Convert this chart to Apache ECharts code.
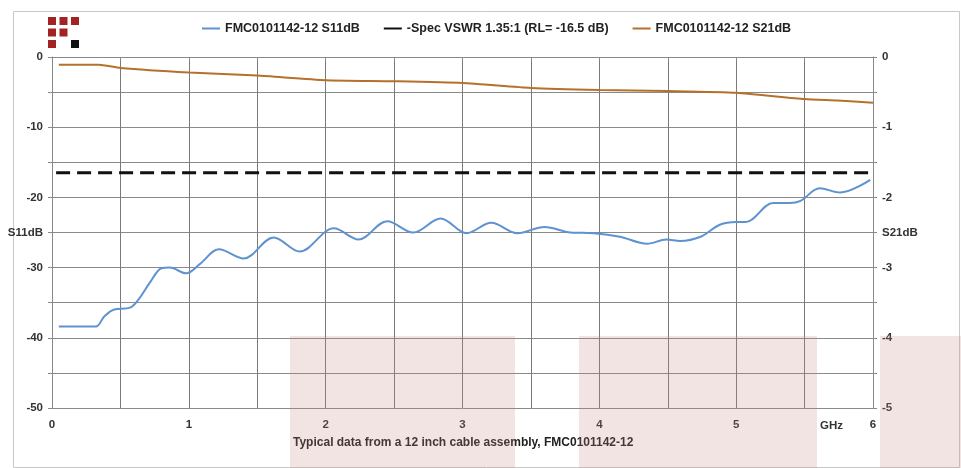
<!DOCTYPE html>
<html>
<head>
<meta charset="utf-8">
<script src="https://cdn.jsdelivr.net/npm/echarts@6/dist/echarts.min.js"></script>
<style>html,body{margin:0;padding:0;background:#fff}#c{width:961px;height:468px}</style>
</head>
<body>
<div id="c"></div>
<script>
var s11Freq = [0.05,0.32,0.38,0.45,0.57,0.63,0.72,0.80,0.86,0.98,1.08,1.22,1.40,1.62,1.81,2.06,2.24,2.45,2.64,2.84,3.03,3.21,3.40,3.60,3.79,3.96,4.15,4.35,4.49,4.59,4.74,4.88,5.00,5.07,5.27,5.39,5.47,5.61,5.76,5.98];
var s11dB   = [-38.4,-38.4,-37.0,-36.0,-35.7,-34.6,-32.0,-30.1,-30.0,-30.8,-29.5,-27.4,-28.7,-25.7,-27.7,-24.4,-26.0,-23.4,-25.0,-23.0,-25.1,-23.6,-25.1,-24.2,-25.0,-25.1,-25.6,-26.6,-26.0,-26.2,-25.6,-23.9,-23.5,-23.5,-20.8,-20.8,-20.5,-18.7,-19.3,-17.5];
var s21Freq = [0.05,0.34,0.5,1.0,1.5,2.0,2.5,3.0,3.5,4.0,4.5,5.0,5.5,5.74,6.0];
var s21dB   = [-0.11,-0.11,-0.155,-0.22,-0.265,-0.33,-0.345,-0.37,-0.44,-0.47,-0.485,-0.51,-0.60,-0.62,-0.65];
var specFreq = [0.03,6.0];
var specdB   = [-16.5,-16.5];
var seriesNames = ['FMC0101142-12 S11dB','-Spec VSWR 1.35:1 (RL= -16.5 dB)','FMC0101142-12 S21dB'];
var xTickLabels = ['0','1','2','3','4','5','6'];

function zip(a,b){return a.map(function(v,i){return [v,b[i]];});}
var FONT = '"Liberation Sans", Arial, sans-serif';
var chart = echarts.init(document.getElementById('c'));
var logo = [];
var cells = [[0,0,'#a32323'],[1,0,'#a32323'],[2,0,'#a32323'],[0,1,'#a32323'],[1,1,'#a32323'],[0,2,'#a32323'],[2,2,'#111']];
cells.forEach(function(c){logo.push({type:'rect',left:48+c[0]*11.5,top:17+c[1]*11.5,shape:{width:8,height:8},style:{fill:c[2]},silent:true});});
chart.setOption({
  animation:false,
  grid:{left:52,right:88,top:57,bottom:60},
  legend:{left:197,top:17,itemWidth:18,itemHeight:2,itemGap:24,icon:'rect',
    textStyle:{fontFamily:FONT,fontWeight:'bold',fontSize:12.5,color:'#222'},
    data:seriesNames},
  xAxis:{type:'value',min:0,max:6,interval:0.5,
    axisLine:{lineStyle:{color:'#888'}},
    axisTick:{show:true,length:4,lineStyle:{color:'#888'}},
    splitLine:{show:true,lineStyle:{color:'#7a7a7a',width:1}},
    axisLabel:{margin:11,fontFamily:FONT,fontWeight:'bold',fontSize:11.5,color:'#333',
      formatter:function(v){var i=Math.round(v);return Math.abs(v-i)<1e-9?xTickLabels[i]:'';}}},
  yAxis:[
    {type:'value',min:-50,max:0,interval:5,position:'left',
     axisLine:{show:true,lineStyle:{color:'#888'}},
     axisTick:{show:true,length:4,lineStyle:{color:'#888'}},
     splitLine:{show:true,lineStyle:{color:'#8a8a8a',width:1}},
     axisLabel:{margin:9,fontFamily:FONT,fontWeight:'bold',fontSize:11.5,color:'#333',
       formatter:function(v){if(v%10===0)return String(v);if(v===-25)return 'S11dB';return '';}}},
    {type:'value',min:-5,max:0,interval:0.5,position:'right',
     axisLine:{show:true,lineStyle:{color:'#888'}},
     axisTick:{show:true,length:4,lineStyle:{color:'#888'}},
     splitLine:{show:false},
     axisLabel:{margin:9,fontFamily:FONT,fontWeight:'bold',fontSize:11.5,color:'#333',
       formatter:function(v){var i=Math.round(v);if(Math.abs(v-i)<1e-9)return String(i);if(Math.abs(v+2.5)<1e-9)return 'S21dB';return '';}}}
  ],
  series:[
    {name:seriesNames[0],type:'line',yAxisIndex:0,data:zip(s11Freq,s11dB),smooth:0.35,symbol:'none',
     lineStyle:{color:'#5e92d0',width:2},itemStyle:{color:'#5e92d0'},z:3},
    {name:seriesNames[1],type:'line',yAxisIndex:0,data:zip(specFreq,specdB),symbol:'none',
     lineStyle:{color:'#111',width:3,type:[14,7]},itemStyle:{color:'#111'},z:4},
    {name:seriesNames[2],type:'line',yAxisIndex:1,data:zip(s21Freq,s21dB),smooth:0.2,symbol:'none',
     lineStyle:{color:'#b5702c',width:2},itemStyle:{color:'#b5702c'},z:3}
  ],
  graphic:[
    {type:'rect',left:11,top:9,shape:{width:946,height:456},style:{fill:'none',stroke:'#c8c8c8',lineWidth:1},silent:true,z:-1},
    {type:'text',left:820,top:420,style:{text:'GHz',font:'bold 11.5px '+FONT,fill:'#333'},silent:true},
    {type:'text',left:293,top:437,style:{text:'Typical data from a 12 inch cable assembly, FMC0101142-12',font:'bold 12px '+FONT,fill:'#222'},silent:true},
    {type:'rect',left:290,top:336,shape:{width:225,height:132},style:{fill:'rgba(200,130,130,0.22)'},silent:true,z:100},
    {type:'rect',left:579,top:336,shape:{width:238,height:132},style:{fill:'rgba(200,130,130,0.22)'},silent:true,z:100},
    {type:'rect',left:880,top:336,shape:{width:81,height:132},style:{fill:'rgba(200,130,130,0.22)'},silent:true,z:100}
  ].concat(logo)
});
</script>
</body>
</html>
